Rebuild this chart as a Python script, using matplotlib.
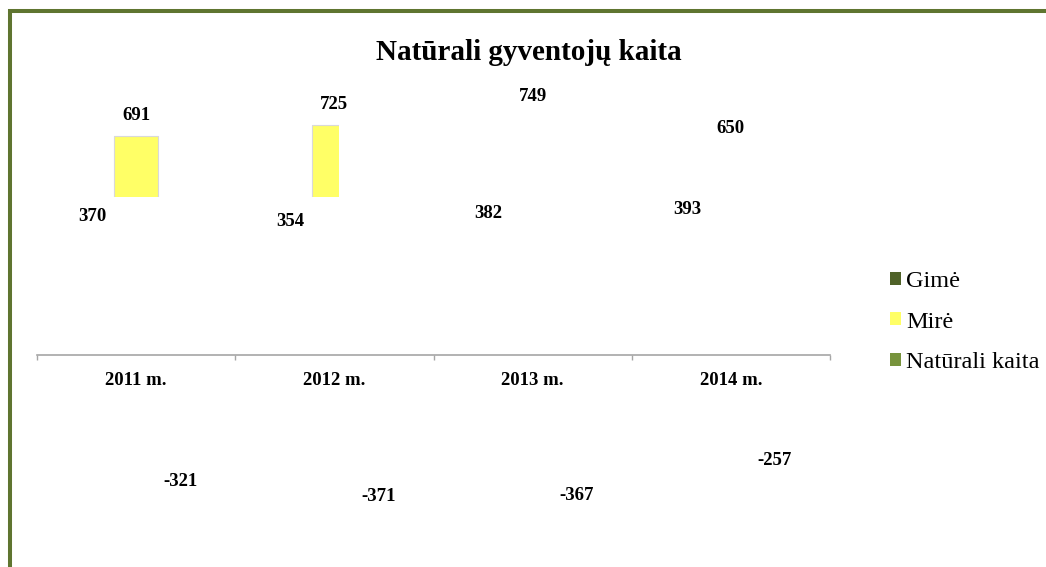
import matplotlib
matplotlib.use('Agg')
import matplotlib.pyplot as plt
from matplotlib.patches import Patch, Rectangle
import numpy as np

# duomenys
metai = ['2011 m.', '2012 m.', '2013 m.', '2014 m.']
gime = [370, 354, 382, 393]
mire = [691, 725, 749, 650]
nat_kaita = [-321, -371, -367, -257]

plt.rcParams['font.family'] = ['Liberation Serif', 'DejaVu Serif']

W, H = 1046, 567
fig = plt.figure(figsize=(W / 100, H / 100), dpi=100)

# braizymo sritis pikseliais: x 37..830, nulis ties 355, 0.317 px vienam asmeniui
px_vienetui = 0.317
y_min, y_max = -650, 900
nulis_px = 355
virsus_px = nulis_px - y_max * px_vienetui
apacia_px = nulis_px - y_min * px_vienetui
ax = fig.add_axes([37 / W, 1 - apacia_px / H, (830 - 37) / W, (apacia_px - virsus_px) / H])
ax.set_xlim(-0.5, 3.5)
ax.set_ylim(y_min, y_max)

x = np.arange(len(metai))
w = 0.222
serijos = [('Gimė', gime, '#4f6228', -w),
           ('Mirė', mire, '#ffff66', 0),
           ('Natūrali kaita', nat_kaita, '#77933c', w)]

# originaliame paveiksle matosi tik sios stulpeliu dalys (x0, y0, plotis, aukstis duomenu vienetais)
matomi = {('Mirė', 0): (-0.3, 498, 0.6, 400),
          ('Mirė', 1): (0.8, 498, 0.223, 400)}

for pav, reiksmes, spalva, poslinkis in serijos:
    stulp = ax.bar(x + poslinkis, reiksmes, w, color=spalva, edgecolor='#d9d9d9', linewidth=0.8)
    for i, b in enumerate(stulp):
        langas = matomi.get((pav, i))
        if langas is None:
            b.set_visible(False)
        else:
            b.set_clip_path(Rectangle(langas[:2], langas[2], langas[3], transform=ax.transData))
    for xi, v in zip(x + poslinkis, reiksmes):
        dy = 15 if v > 0 else -17.5
        ax.annotate(str(v), (xi, v), xytext=(0, dy), textcoords='offset points',
                    ha='center', va='center', fontsize=13.5, fontweight='bold')

for s in ['left', 'right', 'top']:
    ax.spines[s].set_visible(False)
ax.spines['bottom'].set_position(('data', 0))
ax.spines['bottom'].set_color('#a6a6a6')
ax.spines['bottom'].set_linewidth(1.2)
ax.set_yticks([])
ax.set_xticks(x, metai, fontsize=13.5, fontweight='bold')
ax.set_xticks(np.arange(-0.5, 4, 1), minor=True)
ax.tick_params(axis='x', which='major', length=0, pad=12)
ax.tick_params(axis='x', which='minor', length=3.6, color='#a6a6a6', width=1)
ax.patch.set_alpha(0)

fig.text(529 / W, 1 - 52 / H, 'Natūrali gyventojų kaita', ha='center', va='center',
         fontsize=21, fontweight='bold')

rankenos = [Patch(facecolor=s[2], edgecolor='none', label=s[0]) for s in serijos]
fig.legend(handles=rankenos, loc='center left', bbox_to_anchor=(890 / W, 1 - 322 / H),
           frameon=False, fontsize=17.5, borderpad=0, borderaxespad=0,
           handlelength=0.45, handleheight=0.45, handletextpad=0.22, labelspacing=0.8)

# remelis
fig.add_artist(Rectangle((9.5 / W, -0.1), 1.2, 1 - 11 / H + 0.1, fill=False,
                         edgecolor='#5f7530', linewidth=2.9, transform=fig.transFigure))

fig.savefig('out.png', dpi=100)
